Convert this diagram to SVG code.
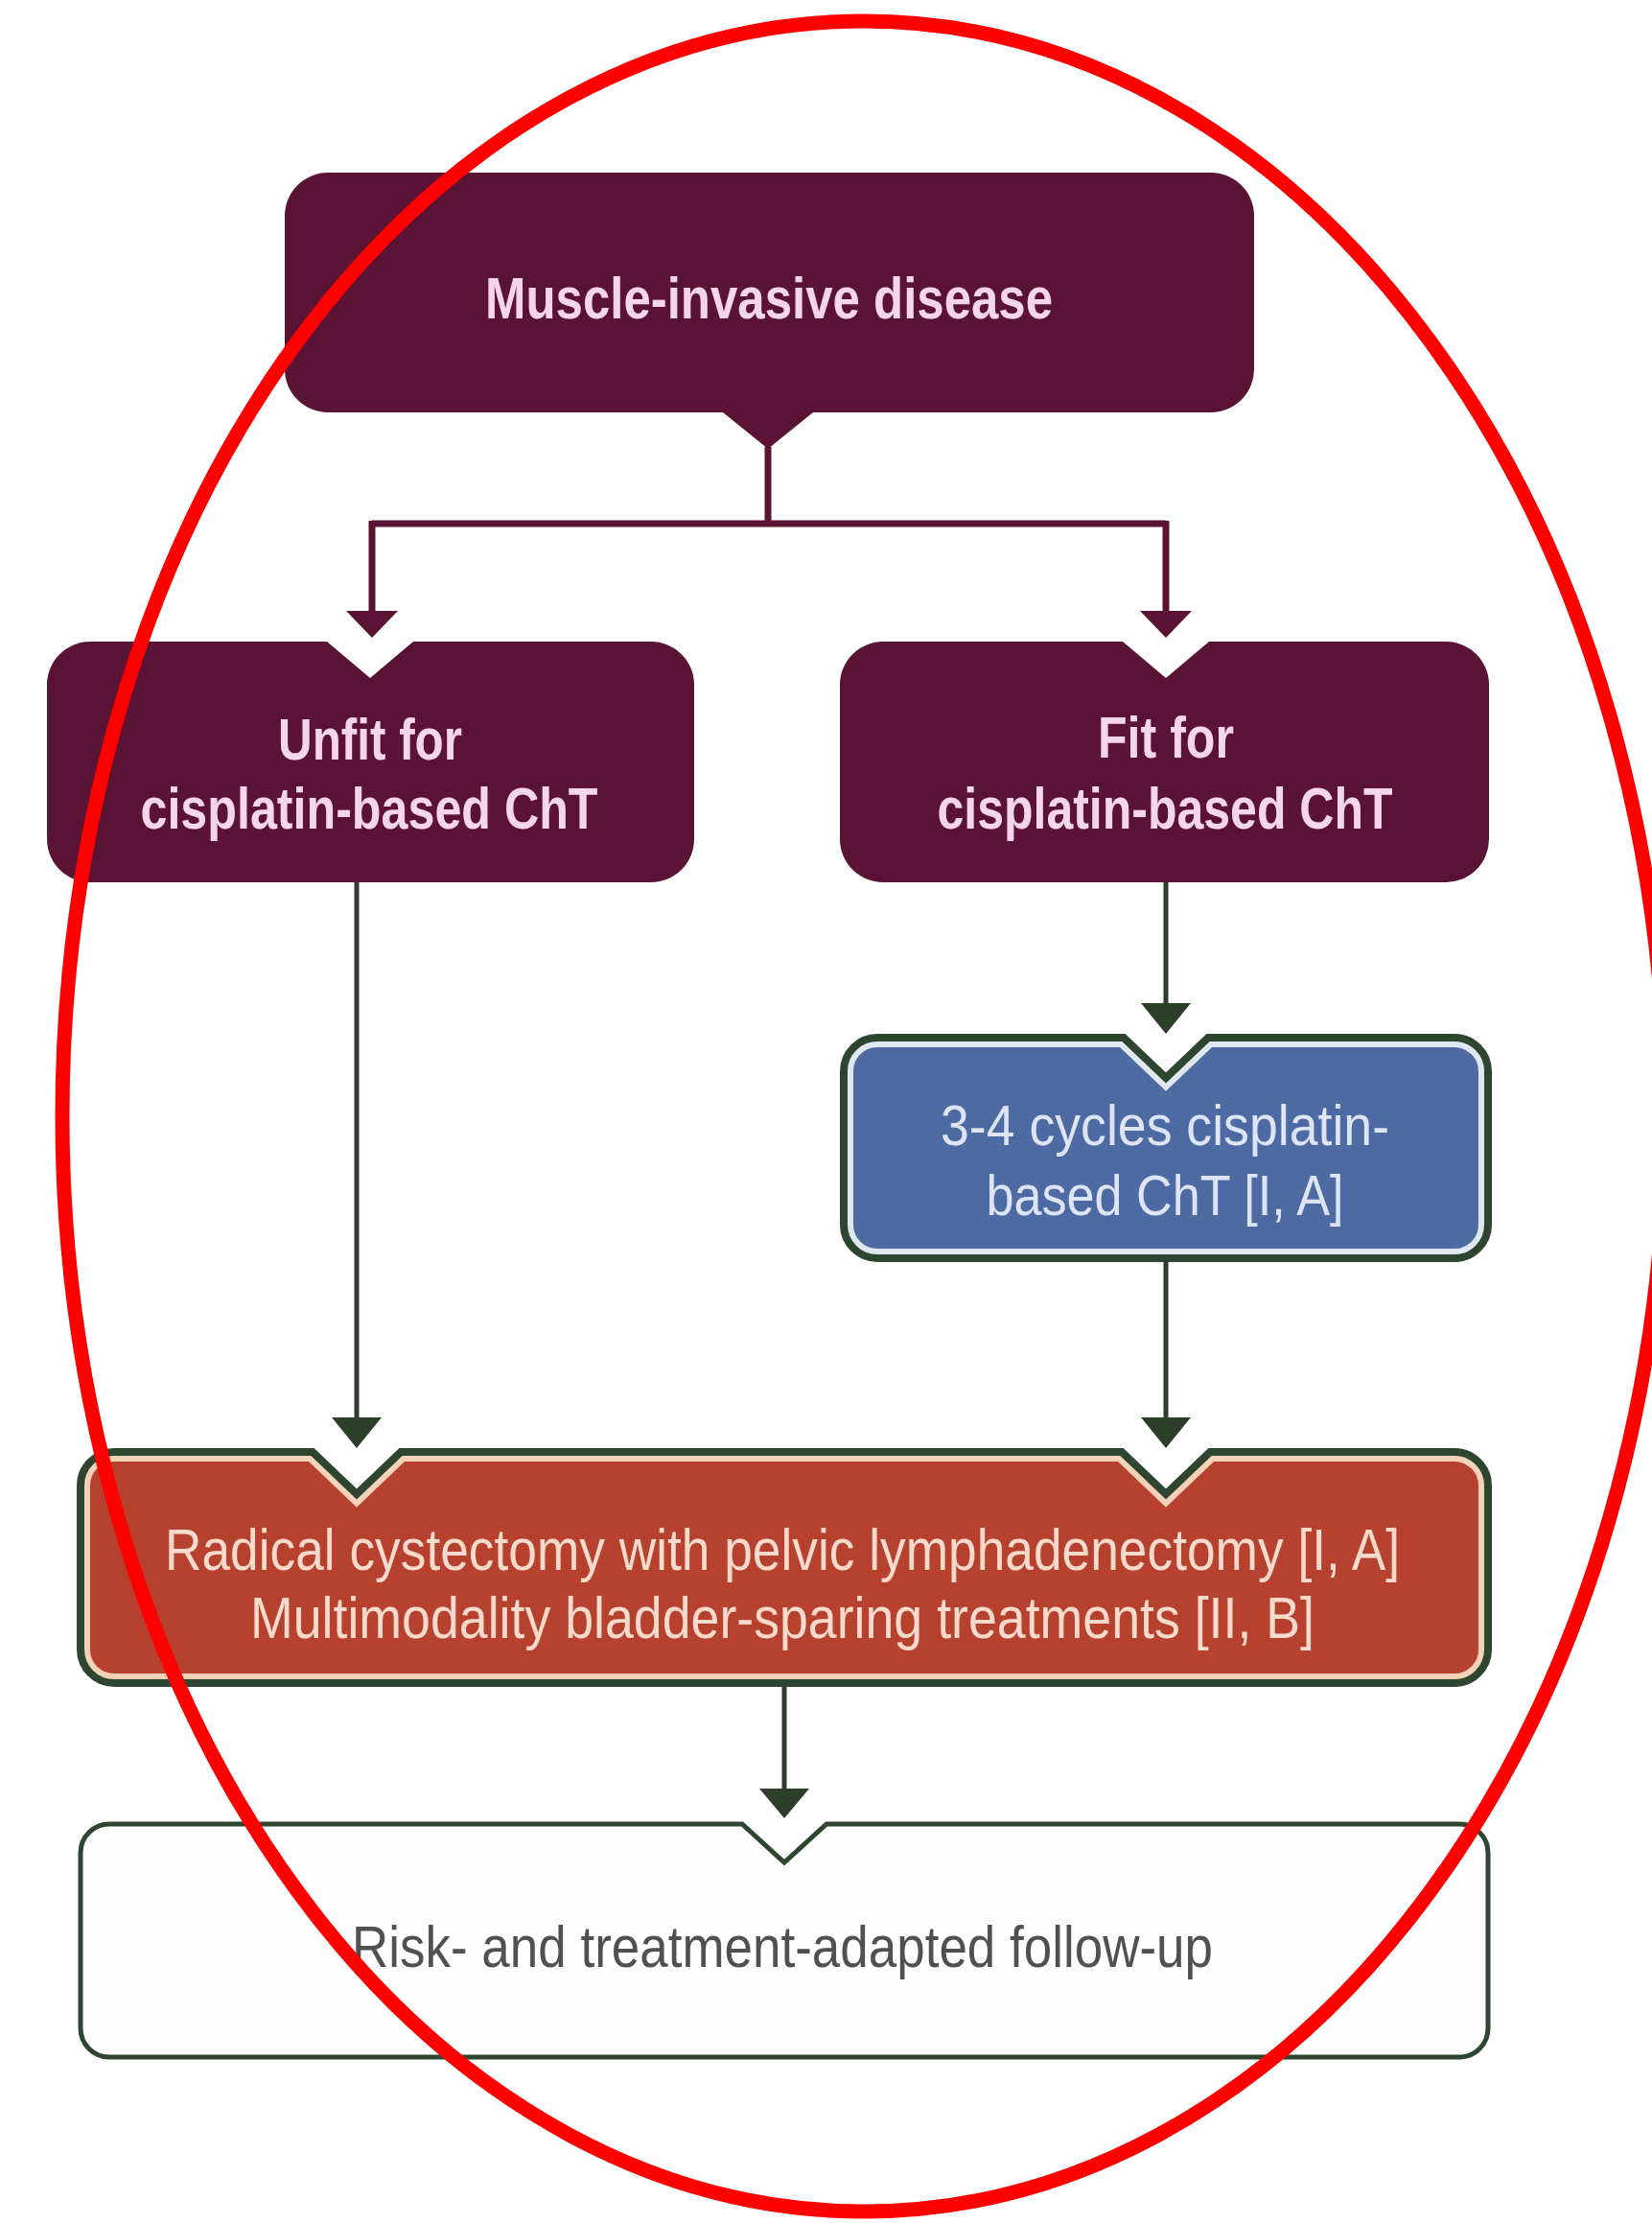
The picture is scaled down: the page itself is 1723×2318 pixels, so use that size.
<svg xmlns="http://www.w3.org/2000/svg" xmlns:xlink="http://www.w3.org/1999/xlink" width="1723" height="2318" viewBox="0 0 1723 2318">
<style>
.maroon{fill:#5b1335}
.mt{font-family:"Liberation Sans",Arial,sans-serif;font-weight:bold;font-size:61px;fill:#f4d6e6;text-anchor:middle}
.bt{font-family:"Liberation Sans",Arial,sans-serif;font-size:60px;fill:#dde4f3;text-anchor:middle}
.rt{font-family:"Liberation Sans",Arial,sans-serif;font-size:61px;fill:#f7dacb;text-anchor:middle}
.wt{font-family:"Liberation Sans",Arial,sans-serif;font-size:61px;fill:#505050;text-anchor:middle}
.lm{stroke:#5b1335;stroke-width:7;fill:none}
.lg{stroke:#2c4029;stroke-width:5;fill:none}
.am{fill:#5b1335}
.ag{fill:#2c4029}
.edge{fill:none;stroke:#2e4530;stroke-width:8}
</style>
<defs>
<path id="pBlue" d="M915,1082 H1172 L1216,1124 L1260,1082 H1517 A35 35 0 0 1 1552,1117 V1277 A35 35 0 0 1 1517,1312 H915 A35 35 0 0 1 880,1277 V1117 A35 35 0 0 1 915,1082 Z"/>
<path id="pRed" d="M119,1514 H326 L372,1558 L418,1514 H1170 L1216,1558 L1262,1514 H1517 A35 35 0 0 1 1552,1549 V1720 A35 35 0 0 1 1517,1755 H119 A35 35 0 0 1 84,1720 V1549 A35 35 0 0 1 119,1514 Z"/>
<clipPath id="cBlue"><use xlink:href="#pBlue"/></clipPath>
<clipPath id="cRed"><use xlink:href="#pRed"/></clipPath>
</defs>
<rect width="1723" height="2318" fill="#ffffff"/>

<g id="connectors">
<line class="lm" x1="801" y1="466" x2="801" y2="546"/>
<line class="lm" x1="388" y1="546" x2="1216" y2="546"/>
<line class="lm" x1="388" y1="543" x2="388" y2="640"/>
<line class="lm" x1="1216" y1="543" x2="1216" y2="640"/>
<polygon class="am" points="361,637 415,637 388,665"/>
<polygon class="am" points="1189,637 1243,637 1216,665"/>
<line class="lg" x1="372" y1="920" x2="372" y2="1480"/>
<polygon class="ag" points="346,1478 398,1478 372,1510"/>
<line class="lg" x1="1216" y1="920" x2="1216" y2="1048"/>
<polygon class="ag" points="1190,1046 1242,1046 1216,1078"/>
<line class="lg" x1="1216" y1="1312" x2="1216" y2="1480"/>
<polygon class="ag" points="1190,1478 1242,1478 1216,1510"/>
<line class="lg" x1="818" y1="1755" x2="818" y2="1867"/>
<polygon class="ag" points="792,1865 844,1865 818,1896"/>
</g>

<g id="node-muscle">
<path class="maroon" d="M342,180 H1263 A45 45 0 0 1 1308,225 V385 A45 45 0 0 1 1263,430 H848 L801,468 L754,430 H342 A45 45 0 0 1 297,385 V225 A45 45 0 0 1 342,180 Z"/>
<text class="mt" x="802" y="332" textLength="592" lengthAdjust="spacingAndGlyphs">Muscle-invasive disease</text>
</g>

<g id="node-unfit">
<path class="maroon" d="M94,669 H341 L386,707 L431,669 H679 A45 45 0 0 1 724,714 V875 A45 45 0 0 1 679,920 H94 A45 45 0 0 1 49,875 V714 A45 45 0 0 1 94,669 Z"/>
<text class="mt" x="386" y="792" textLength="192" lengthAdjust="spacingAndGlyphs">Unfit for</text>
<text class="mt" x="385" y="864" textLength="477" lengthAdjust="spacingAndGlyphs">cisplatin-based ChT</text>
</g>

<g id="node-fit">
<path class="maroon" d="M921,669 H1171 L1216,707 L1261,669 H1508 A45 45 0 0 1 1553,714 V875 A45 45 0 0 1 1508,920 H921 A45 45 0 0 1 876,875 V714 A45 45 0 0 1 921,669 Z"/>
<text class="mt" x="1216" y="790" textLength="142" lengthAdjust="spacingAndGlyphs">Fit for</text>
<text class="mt" x="1215" y="864" textLength="475" lengthAdjust="spacingAndGlyphs">cisplatin-based ChT</text>
</g>

<g id="node-cycles">
<use xlink:href="#pBlue" fill="#4d6aa3"/>
<use xlink:href="#pBlue" fill="none" stroke="#dfe8f0" stroke-width="20" clip-path="url(#cBlue)"/>
<use xlink:href="#pBlue" class="edge"/>
<text class="bt" x="1215" y="1194" textLength="468" lengthAdjust="spacingAndGlyphs">3-4 cycles cisplatin-</text>
<text class="bt" x="1215" y="1267" textLength="373" lengthAdjust="spacingAndGlyphs">based ChT [I, A]</text>
</g>

<g id="node-radical">
<use xlink:href="#pRed" fill="#b6412f"/>
<use xlink:href="#pRed" fill="none" stroke="#f3d2b8" stroke-width="20" clip-path="url(#cRed)"/>
<use xlink:href="#pRed" class="edge"/>
<text class="rt" x="816" y="1637" textLength="1288" lengthAdjust="spacingAndGlyphs">Radical cystectomy with pelvic lymphadenectomy [I, A]</text>
<text class="rt" x="816" y="1708" textLength="1110" lengthAdjust="spacingAndGlyphs">Multimodality bladder-sparing treatments [II, B]</text>
</g>

<g id="node-followup">
<path d="M114,1902 H774 L818,1942 L862,1902 H1522 A30 30 0 0 1 1552,1932 V2115 A30 30 0 0 1 1522,2145 H114 A30 30 0 0 1 84,2115 V1932 A30 30 0 0 1 114,1902 Z" fill="#fdfefd" stroke="#2e4530" stroke-width="5"/>
<text class="wt" x="816" y="2051" textLength="898" lengthAdjust="spacingAndGlyphs">Risk- and treatment-adapted follow-up</text>
</g>

<ellipse cx="901" cy="1164" rx="836" ry="1142" fill="none" stroke="#ff0000" stroke-width="15"/>
</svg>
